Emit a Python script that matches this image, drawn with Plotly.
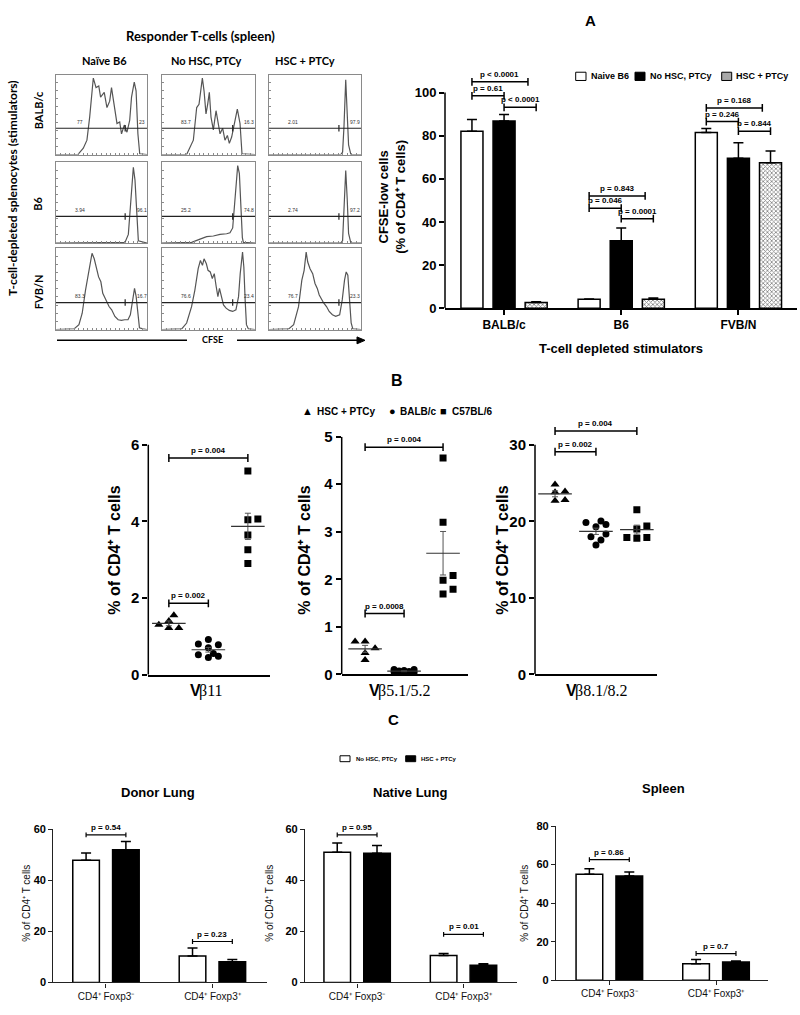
import numpy as np
import plotly.graph_objects as go

W, H = 800, 1015
SANS = "Liberation Sans"
SERIF = "Liberation Serif"
HUM = "Lato"

# ===================== DATA =====================
# --- CFSE dilution histograms (x: CFSE channel 0-100, y: % of max count) ---
hist_columns = ["Naïve B6", "No HSC, PTCy", "HSC + PTCy"]
hist_rows = ["BALB/c", "B6", "FVB/N"]

balb_naive_cfse = [0, 24, 30, 34, 37, 41, 44, 47, 49, 53, 56, 59, 61, 64, 67, 70, 72, 75, 78, 81, 83, 86, 88, 90, 92, 100]
balb_naive_count = [0, 0, 8, 18, 47, 96, 84, 86, 72, 78, 59, 67, 84, 59, 39, 41, 26, 37, 28, 43, 72, 91, 80, 26, 1, 0]
balb_nohsc_cfse = [0, 26.5, 33.7, 37.3, 39.8, 40.9, 43.4, 45.2, 47.3, 49.1, 50.9, 52.7, 55.2, 58.1, 60.6, 62.4, 65.2, 67.7, 70.3, 72.4, 74.9, 77.8, 81, 83.9, 86, 100]
balb_nohsc_count = [0, 0, 18, 59, 63, 72, 96, 80, 51, 63, 78, 47, 31, 55, 39, 26, 33, 18, 24, 14, 22, 41, 57, 39, 1, 0]
balb_hsc_cfse = [0, 78, 80, 81.5, 83.4, 85, 86.5, 89, 100]
balb_hsc_count = [0, 0, 3, 35, 94, 55, 12, 0, 0]

b6_naive_cfse = [0, 75.8, 79.5, 81.3, 83.5, 85, 86.8, 88.6, 90.5, 100]
b6_naive_count = [0, 0.8, 10.7, 38.5, 66.3, 94, 78, 38.5, 2.8, 0]
b6_nohsc_cfse = [0, 31.9, 40.9, 48, 55.2, 62.4, 69.5, 73.1, 76, 77.8, 79.6, 81.4, 83.2, 84.6, 86.4, 87.5, 100]
b6_nohsc_count = [0, 0.8, 4.8, 7.9, 8.7, 10.7, 11.5, 12.7, 18.7, 46.4, 78.2, 96, 86, 46.4, 6.7, 0.8, 0]
b6_hsc_cfse = [0, 78, 80, 81.5, 83.4, 85, 86.5, 89, 100]
b6_hsc_count = [0, 0, 3, 35, 90, 55, 12, 0, 0]

fvb_naive_cfse = [0, 19.8, 25.2, 28.8, 32.4, 36, 39.6, 42, 44.2, 46.8, 49.3, 51.4, 54, 55.8, 58.3, 61.2, 64.7, 68.3, 71.9, 75.5, 79.1, 81.7, 84.5, 86.3, 88.1, 89.9, 91.7, 95.3, 100]
fvb_naive_count = [0, 0.8, 6, 20, 48, 72.6, 93.5, 86.7, 76.6, 64.5, 58.5, 44.4, 38.3, 34.3, 28.2, 24.2, 16, 12, 11.3, 12, 12, 18, 36.3, 50.4, 40.3, 16, 2, 0.8, 0]
fvb_nohsc_cfse = [0, 21.2, 26.5, 31.8, 35.3, 38.9, 41.3, 43.5, 45.2, 47.7, 49.5, 51.9, 54.1, 56.2, 58.3, 60.1, 61.8, 63.6, 66.1, 68.9, 72.4, 76, 79.5, 82.3, 84.1, 86.6, 88, 89.4, 90.8, 92.9, 100]
fvb_nohsc_count = [0, 0.8, 8, 28, 48, 74.6, 84.7, 78.6, 86.7, 80.6, 72.6, 70.6, 62.5, 68.5, 52.4, 40.3, 50.4, 42.3, 30.2, 26.2, 23.4, 22.2, 24.2, 40.3, 68.5, 94.8, 76.6, 36.3, 6, 0.8, 0]
fvb_hsc_cfse = [0, 21.4, 26.8, 32.1, 35.7, 38.2, 40.4, 42.1, 44.6, 47.5, 50, 52.5, 54.6, 57.1, 59.6, 62.5, 65.4, 68.9, 72.5, 76.8, 79.6, 82.1, 83.9, 85.7, 87.5, 89.3, 91.1, 100]
fvb_hsc_count = [0, 0.8, 6, 28, 60.5, 72.6, 94.8, 82.7, 74.6, 68.5, 56.5, 50.4, 42.3, 36.3, 32.3, 28.2, 22.2, 18.1, 16.1, 18.1, 36.3, 60.5, 70.6, 66.5, 36.3, 8, 0.8, 0]

gate_low_pct = [["77", "83.7", "2.01"], ["3.94", "25.2", "2.74"], ["83.3", "76.6", "76.7"]]
gate_high_pct = [["23", "16.3", "97.9"], ["96.1", "74.8", "97.2"], ["16.7", "23.4", "23.3"]]
gate_level = 33      # count level of the gate bar
gate_split = 76      # CFSE channel dividing CFSE-low / CFSE-high

# --- Panel A: CFSE-low cells (% of CD4+ T cells) ---
a_categories = ["BALB/c", "B6", "FVB/N"]
a_series = ["Naive B6", "No HSC, PTCy", "HSC + PTCy"]
a_naive = [82.1, 4.1, 81.5]
a_naive_sem = [5.4, 0.2, 1.8]
a_nohsc = [86.8, 31.3, 69.5]
a_nohsc_sem = [3.0, 5.9, 7.2]
a_hsc = [2.7, 4.1, 67.5]
a_hsc_sem = [0.3, 0.6, 5.4]
a_p_text = ["p < 0.0001", "p = 0.61", "p < 0.0001", "p = 0.843", "p = 0.046", "p = 0.0001", "p = 0.168", "p = 0.246", "p = 0.844"]
a_p_group = [0, 0, 0, 1, 1, 1, 2, 2, 2]
a_p_from = [0, 0, 1, 0, 0, 1, 0, 0, 1]
a_p_to = [2, 1, 2, 2, 1, 2, 2, 1, 2]
a_p_level = [105, 98.5, 93.2, 52.1, 46.4, 41.5, 92.9, 86.6, 82.1]

# --- Panel B: TCR Vbeta usage (% of CD4+ T cells) ---
b_groups = ["HSC + PTCy", "BALB/c", "C57BL/6"]
vb11_hsc = [1.55, 1.40, 1.30, 1.22, 1.22]
vb11_balb = [0.92, 0.80, 0.78, 0.70, 0.55, 0.48, 0.45, 0.52]
vb11_c57 = [5.31, 4.06, 4.04, 3.64, 3.26, 2.90]
vb11_p_text = ["p = 0.004", "p = 0.002"]
vb11_p_pairs = [(0, 2), (0, 1)]
vb11_p_level = [5.65, 1.86]

vb5_hsc = [0.69, 0.69, 0.55, 0.45, 0.30]
vb5_balb = [0.10, 0.08, 0.06, 0.05, 0.04, 0.07, 0.10, 0.03]
vb5_c57 = [4.55, 3.20, 2.08, 1.98, 1.79, 1.69]
vb5_p_text = ["p = 0.004", "p = 0.0008"]
vb5_p_pairs = [(0, 2), (0, 1)]
vb5_p_level = [4.78, 1.28]

vb8_hsc = [24.8, 23.9, 23.8, 22.7, 22.8]
vb8_balb = [20.05, 19.3, 19.6, 19.85, 18.0, 18.35, 17.55, 16.9]
vb8_c57 = [21.5, 19.4, 19.0, 17.9, 17.8, 17.9]
vb8_p_text = ["p = 0.004", "p = 0.002"]
vb8_p_pairs = [(0, 2), (0, 1)]
vb8_p_level = [31.8, 29.1]

# --- Panel C: Foxp3 subsets (% of CD4+ T cells) ---
c_categories = ["CD4⁺ Foxp3⁻", "CD4⁺ Foxp3⁺"]
c_series = ["No HSC, PTCy", "HSC + PTCy"]
c_tissues = ["Donor Lung", "Native Lung", "Spleen"]
donor_nohsc = [47.8, 10.3]
donor_nohsc_sem = [2.8, 3.2]
donor_hsc = [51.9, 8.1]
donor_hsc_sem = [3.2, 0.9]
donor_p_text = ["p = 0.54", "p = 0.23"]
donor_p_level = [57.7, 16.0]
native_nohsc = [50.9, 10.5]
native_nohsc_sem = [3.6, 0.8]
native_hsc = [50.5, 6.7]
native_hsc_sem = [3.1, 0.6]
native_p_text = ["p = 0.95", "p = 0.01"]
native_p_level = [57.7, 18.8]
spleen_nohsc = [55.0, 8.5]
spleen_nohsc_sem = [2.9, 2.2]
spleen_hsc = [54.1, 9.4]
spleen_hsc_sem = [2.1, 0.5]
spleen_p_text = ["p = 0.86", "p = 0.7"]
spleen_p_level = [62.6, 13.8]

PCT_CD4 = "% of CD4⁺ T cells"

# ===================== HELPERS =====================
fig = go.Figure()
L = {}
shapes = []
annotations = []


def keys(n):
    s = "" if n == 1 else str(n)
    return "xaxis" + s, "yaxis" + s, "x" + s, "y" + s


def dx(a, b):
    return [a / W, b / W]


def dy(top, bottom):
    return [1 - bottom / H, 1 - top / H]


def ann(text, x, y, size, family=SANS, bold=True, angle=0, xanchor="center", yanchor="middle",
        color="black", xshift=0):
    annotations.append(dict(text=f"<b>{text}</b>" if bold else text, x=x / W, y=1 - y / H,
                            xref="paper", yref="paper", showarrow=False, textangle=angle,
                            xanchor=xanchor, yanchor=yanchor, xshift=xshift, borderpad=0,
                            font=dict(family=family, size=size, color=color)))


def rect_px(x0, y0, x1, y1, fill, lw=1):
    shapes.append(dict(type="rect", xref="paper", yref="paper", x0=x0 / W, x1=x1 / W,
                       y0=1 - y1 / H, y1=1 - y0 / H, fillcolor=fill,
                       line=dict(color="black", width=lw)))


def bracket(xr, yr, x1, x2, y, half, text, size, lw=1.5):
    ln = dict(color="black", width=lw)
    shapes.append(dict(type="line", xref=xr, yref=yr, x0=x1, x1=x2, y0=y, y1=y, line=ln))
    shapes.append(dict(type="line", xref=xr, yref=yr, x0=x1, x1=x1, y0=y - half, y1=y + half, line=ln))
    shapes.append(dict(type="line", xref=xr, yref=yr, x0=x2, x1=x2, y0=y - half, y1=y + half, line=ln))
    annotations.append(dict(text=f"<b>{text}</b>", x=(x1 + x2) / 2, y=y, xref=xr, yref=yr,
                            showarrow=False, yanchor="bottom", yshift=1,
                            font=dict(family=SANS, size=size, color="black")))


def swarm(vals, ypx, xpx, diam=7.0, step=5.0, maxk=2):
    vals = np.asarray(vals, float)
    offs = np.zeros(len(vals))
    placed = []
    cands = [0.0]
    for k in range(1, maxk + 1):
        cands += [k * step, -k * step]
    for i in np.argsort(vals):
        yy = vals[i] * ypx
        best, bestd = 0.0, -1.0
        for c in cands:
            dmin = min([np.hypot(c - px, yy - py) for px, py in placed], default=1e9)
            if dmin >= diam:
                best = c
                break
            if dmin > bestd:
                best, bestd = c, dmin
        placed.append((best, yy))
        offs[i] = best / xpx
    return offs


# approximate advance widths (em) used to join a sans "V" with a serif suffix
SERIF_EM = {"β": 0.5, ".": 0.25, "/": 0.28}


def serif_width(s, size):
    return sum(SERIF_EM.get(ch, 0.5) for ch in s) * size


def base_axis(**kw):
    d = dict(showgrid=False, zeroline=False, fixedrange=True)
    d.update(kw)
    return d


# ===================== HISTOGRAMS =====================
hist_x = [[balb_naive_cfse, balb_nohsc_cfse, balb_hsc_cfse],
          [b6_naive_cfse, b6_nohsc_cfse, b6_hsc_cfse],
          [fvb_naive_cfse, fvb_nohsc_cfse, fvb_hsc_cfse]]
hist_y = [[balb_naive_count, balb_nohsc_count, balb_hsc_count],
          [b6_naive_count, b6_nohsc_count, b6_hsc_count],
          [fvb_naive_count, fvb_nohsc_count, fvb_hsc_count]]
HCOLS = [(56, 147), (162, 255), (269, 361)]
HROWS = [(67, 148), (156, 238), (243, 326)]

n = 0
for r in range(3):
    for c in range(3):
        n += 1
        xk, yk, xr, yr = keys(n)
        frame = dict(showline=True, mirror=True, linecolor="#8a8a8a", linewidth=1,
                     ticks="inside", ticklen=2, tickcolor="#8a8a8a", showticklabels=False)
        L[xk] = base_axis(domain=dx(*HCOLS[c]), range=[0, 100], anchor=yr,
                          tickvals=list(range(5, 100, 5)), **frame)
        L[yk] = base_axis(domain=dy(*HROWS[r]), range=[0, 100], anchor=xr,
                          tickvals=list(range(10, 100, 10)), **frame)
        fig.add_trace(go.Scatter(x=hist_x[r][c], y=hist_y[r][c], mode="lines",
                                 line=dict(color="#555555", width=1.2), xaxis=xr, yaxis=yr,
                                 showlegend=False, hoverinfo="skip"))
        ln = dict(color="#222", width=1.2)
        shapes.append(dict(type="line", xref=xr, yref=yr, x0=0, x1=100, y0=gate_level, y1=gate_level, line=ln))
        shapes.append(dict(type="line", xref=xr, yref=yr, x0=gate_split, x1=gate_split,
                           y0=gate_level - 4, y1=gate_level + 4, line=ln))
        for txt, xx in ((gate_low_pct[r][c], 26), (gate_high_pct[r][c], 94)):
            annotations.append(dict(text=txt, x=xx, y=gate_level + 1.5, xref=xr, yref=yr, showarrow=False,
                                    yanchor="bottom", font=dict(family=SANS, size=5, color="#333")))

ann("Responder T-cells (spleen)", 201, 27, 13, HUM)
for name, xc in zip(hist_columns, (104, 206.7, 305)):
    ann(name, xc, 52, 11, HUM)
for name, yc in zip(hist_rows, (103, 198, 288)):
    ann(name, 38, yc, 11, HUM, angle=-90)
ann("T-cell-depleted splenocytes (stimulators)", 13, 182, 12, HUM, angle=-90)
ann("CFSE", 212, 336, 9, HUM)
shapes.append(dict(type="line", xref="paper", yref="paper", x0=57 / W, x1=187 / W,
                   y0=1 - 337 / H, y1=1 - 337 / H, line=dict(color="black", width=1.5)))
shapes.append(dict(type="line", xref="paper", yref="paper", x0=237 / W, x1=362 / W,
                   y0=1 - 337 / H, y1=1 - 337 / H, line=dict(color="black", width=1.5)))
shapes.append(dict(type="path", xref="paper", yref="paper",
                   path=f"M {357 / W} {1 - 333.5 / H} L {365 / W} {1 - 337 / H} L {357 / W} {1 - 340.5 / H} Z",
                   fillcolor="black", line=dict(color="black", width=1)))

# ===================== PANEL A =====================
n = 10
xk, yk, xr, yr = keys(n)
L[xk] = base_axis(domain=dx(445, 797), range=[-0.504, 2.5], anchor=yr, showline=True,
                  linecolor="black", linewidth=1.5, ticks="outside", ticklen=5, tickwidth=1.5,
                  tickcolor="black", tickvals=[0, 1, 2], ticktext=a_categories,
                  tickfont=dict(family=SANS, size=12, color="black", weight="bold"))
L[yk] = base_axis(domain=dy(67.5, 304.3), range=[0, 108], anchor=xr, showline=False,
                  ticks="outside", ticklen=5, tickwidth=1.5, tickcolor="black",
                  tickvals=[0, 20, 40, 60, 80, 100],
                  tickfont=dict(family=SANS, size=13, color="black", weight="bold"))
shapes.append(dict(type="line", xref=xr + " domain", yref=yr, x0=0, x1=0, y0=0, y1=100,
                   line=dict(color="black", width=1.5)))

A_W, A_SHIFT = 0.188, 0.274
edge = dict(color="black", width=1.5)
a_markers = [dict(color="white", line=edge),
             dict(color="black", line=edge),
             dict(color="white", line=edge,
                  pattern=dict(shape="x", size=3, solidity=0.45, fgcolor="black", bgcolor="white"))]
for k, (name, vals, sem) in enumerate(zip(a_series, (a_naive, a_nohsc, a_hsc),
                                          (a_naive_sem, a_nohsc_sem, a_hsc_sem))):
    fig.add_trace(go.Bar(x=list(range(len(a_categories))), y=vals, name=name,
                         width=A_W, offset=(k - 1) * A_SHIFT - A_W / 2, marker=a_markers[k],
                         error_y=dict(type="data", symmetric=False, array=sem,
                                      arrayminus=[0] * len(sem), color="black",
                                      thickness=1.5, width=5),
                         xaxis=xr, yaxis=yr, showlegend=False, hoverinfo="skip"))
for txt, g, f, t, lev in zip(a_p_text, a_p_group, a_p_from, a_p_to, a_p_level):
    x1 = g + (f - 1) * A_SHIFT
    x2 = g + (t - 1) * A_SHIFT - (0.07 if t - f == 2 else 0)
    bracket(xr, yr, x1, x2, lev, 1.8, txt, 8)

ann("A", 590, 12, 15)
ann(f"CFSE-low cells<br>({PCT_CD4})", 392, 191, 13, angle=-90)
ann("T-cell depleted stimulators", 621, 345, 13)
# legend A
rect_px(575.7, 64.3, 586, 72.7, "white")
ann(a_series[0], 590, 68.5, 9, xanchor="left")
rect_px(635, 64.3, 645, 72.7, "black")
ann(a_series[1], 649, 68.5, 9, xanchor="left")
rect_px(721.7, 64.3, 731.7, 72.7, "#a8a8a8")
ann(a_series[2], 735, 68.5, 9, xanchor="left")

# ===================== PANEL B =====================
b_panels = [
    dict(n=11, xd=(148.3, 270), yd=(443, 677), xrng=[-0.52, 2.56], yrng=[0, 6], top=6, tv=[0, 2, 4, 6],
         vals=(vb11_hsc, vb11_balb, vb11_c57), pt=vb11_p_text, pp=vb11_p_pairs, pl=vb11_p_level,
         lab="β11", labx=207, ylx=115),
    dict(n=12, xd=(341.7, 468), yd=(435, 676.7), xrng=[-0.6, 2.64], yrng=[0, 5], top=5, tv=[0, 1, 2, 3, 4, 5],
         vals=(vb5_hsc, vb5_balb, vb5_c57), pt=vb5_p_text, pp=vb5_p_pairs, pl=vb5_p_level,
         lab="β5.1/5.2", labx=400, ylx=305),
    dict(n=13, xd=(535, 657.3), yd=(423.8, 676.7), xrng=[-0.49, 2.5], yrng=[0, 32.5], top=30, tv=[0, 10, 20, 30],
         vals=(vb8_hsc, vb8_balb, vb8_c57), pt=vb8_p_text, pp=vb8_p_pairs, pl=vb8_p_level,
         lab="β8.1/8.2", labx=597, ylx=503),
]
symbols = ["triangle-up", "circle", "square"]
msizes = [8, 7, 7]
LAB_SIZE = 16
V_WIDTH = 0.667 * LAB_SIZE
for p in b_panels:
    xk, yk, xr, yr = keys(p["n"])
    L[xk] = base_axis(domain=dx(*p["xd"]), range=p["xrng"], anchor=yr, showline=True,
                      linecolor="black", linewidth=1.5, ticks="", showticklabels=False)
    L[yk] = base_axis(domain=dy(*p["yd"]), range=p["yrng"], anchor=xr, showline=False,
                      ticks="outside", ticklen=5, tickwidth=1.5, tickcolor="black", tickvals=p["tv"],
                      tickfont=dict(family=SANS, size=15, color="black", weight="bold"))
    shapes.append(dict(type="line", xref=xr + " domain", yref=yr, x0=0, x1=0, y0=0, y1=p["top"],
                       line=dict(color="black", width=1.5)))
    ypx = (p["yd"][1] - p["yd"][0]) / (p["yrng"][1] - p["yrng"][0])
    xpx = (p["xd"][1] - p["xd"][0]) / (p["xrng"][1] - p["xrng"][0])
    for g, vals in enumerate(p["vals"]):
        offs = swarm(vals, ypx, xpx)
        fig.add_trace(go.Scatter(x=g + offs, y=vals, mode="markers", name=b_groups[g],
                                 marker=dict(symbol=symbols[g], size=msizes[g], color="black"),
                                 xaxis=xr, yaxis=yr, showlegend=False, hoverinfo="skip"))
        v = np.asarray(vals, float)
        mean = v.mean()
        sem = v.std(ddof=1) / np.sqrt(len(v))
        fig.add_trace(go.Scatter(x=[g], y=[mean], mode="markers",
                                 marker=dict(symbol="line-ew", size=24, line=dict(width=1.2, color="#333")),
                                 error_y=dict(type="data", array=[sem], color="#555", thickness=1, width=3),
                                 xaxis=xr, yaxis=yr, showlegend=False, hoverinfo="skip"))
    for txt, (a, b), lev in zip(p["pt"], p["pp"], p["pl"]):
        bracket(xr, yr, a, b, lev, 4 / ypx, txt, 8)
    ann(PCT_CD4, p["ylx"], 550, 16, angle=-90)
    total = V_WIDTH + serif_width(p["lab"], LAB_SIZE)
    split = p["labx"] - total / 2 + V_WIDTH
    ann("V", split, 693, LAB_SIZE, SANS, xanchor="right", xshift=2)
    ann(p["lab"], split, 694, LAB_SIZE, SERIF, bold=False, xanchor="left", xshift=-2)

ann("B", 397, 378, 16)
ann("▲", 307, 409, 11, bold=False)
ann(b_groups[0], 316, 409.5, 10, xanchor="left")
ann("●", 392, 409, 11, bold=False)
ann(b_groups[1], 399, 409.5, 10, xanchor="left")
ann("■", 443, 409, 11, bold=False)
ann(b_groups[2], 451, 409.5, 10, xanchor="left")

# ===================== PANEL C =====================
c_panels = [
    dict(n=14, xd=(53.3, 266.7), yd=(834, 990), xrng=[-0.495, 1.51], yrng=[0, 60], tv=[0, 20, 40, 60],
         a=(donor_nohsc, donor_nohsc_sem), b=(donor_hsc, donor_hsc_sem), pt=donor_p_text, pl=donor_p_level,
         tx=158, ty=797, ylx=27),
    dict(n=15, xd=(305, 516.7), yd=(834, 990), xrng=[-0.49, 1.5], yrng=[0, 60], tv=[0, 20, 40, 60],
         a=(native_nohsc, native_nohsc_sem), b=(native_hsc, native_hsc_sem), pt=native_p_text, pl=native_p_level,
         tx=410, ty=797, ylx=270),
    dict(n=16, xd=(556, 768.3), yd=(831, 987.7), xrng=[-0.5, 1.49], yrng=[0, 80], tv=[0, 20, 40, 60, 80],
         a=(spleen_nohsc, spleen_nohsc_sem), b=(spleen_hsc, spleen_hsc_sem), pt=spleen_p_text, pl=spleen_p_level,
         tx=663, ty=793, ylx=525),
]
C_W, C_SHIFT = 0.25, 0.187
c_markers = [dict(color="white", line=edge), dict(color="black", line=edge)]
for i, p in enumerate(c_panels):
    xk, yk, xr, yr = keys(p["n"])
    L[xk] = base_axis(domain=dx(*p["xd"]), range=p["xrng"], anchor=yr, showline=True,
                      linecolor="#222", linewidth=1.2, ticks="outside", ticklen=4, tickwidth=1.2,
                      tickcolor="#222", tickvals=[0, 1], ticktext=c_categories,
                      tickfont=dict(family=SANS, size=10, color="#111"))
    L[yk] = base_axis(domain=dy(*p["yd"]), range=p["yrng"], anchor=xr, showline=True,
                      linecolor="#222", linewidth=1.2, ticks="outside", ticklen=4, tickwidth=1.2,
                      tickcolor="#222", tickvals=p["tv"],
                      tickfont=dict(family=SANS, size=11, color="black", weight="bold"))
    for k, (vals, sem) in enumerate((p["a"], p["b"])):
        fig.add_trace(go.Bar(x=list(range(len(c_categories))), y=vals, name=c_series[k],
                             width=C_W, offset=(2 * k - 1) * C_SHIFT - C_W / 2, marker=c_markers[k],
                             error_y=dict(type="data", symmetric=False, array=sem,
                                          arrayminus=[0] * len(sem), color="black",
                                          thickness=1.5, width=5),
                             xaxis=xr, yaxis=yr, showlegend=False, hoverinfo="skip"))
    ypx = (p["yd"][1] - p["yd"][0]) / (p["yrng"][1] - p["yrng"][0])
    for cat, (txt, lev) in enumerate(zip(p["pt"], p["pl"])):
        bracket(xr, yr, cat - C_SHIFT, cat + C_SHIFT, lev, 2.5 / ypx, txt, 8, lw=1.2)
    ann(c_tissues[i], p["tx"], p["ty"], 13)
    ann(PCT_CD4, p["ylx"], 910, 10, bold=False, angle=-90, color="#111")

ann("C", 393, 723, 15)
rect_px(340, 759.5, 350, 765.5, "white")
ann(c_series[0], 355, 762.5, 6, xanchor="left")
rect_px(405.7, 759.5, 415.7, 765.5, "black")
ann(c_series[1], 420, 762.5, 6, xanchor="left")

fig.update_layout(width=W, height=H, margin=dict(l=0, r=0, t=0, b=0), autosize=False,
                  paper_bgcolor="white", plot_bgcolor="white", barmode="overlay",
                  showlegend=False, shapes=shapes, annotations=annotations, **L)
fig.write_html("out.html", config={"displayModeBar": False},
               post_script="document.body.style.margin='0';")
